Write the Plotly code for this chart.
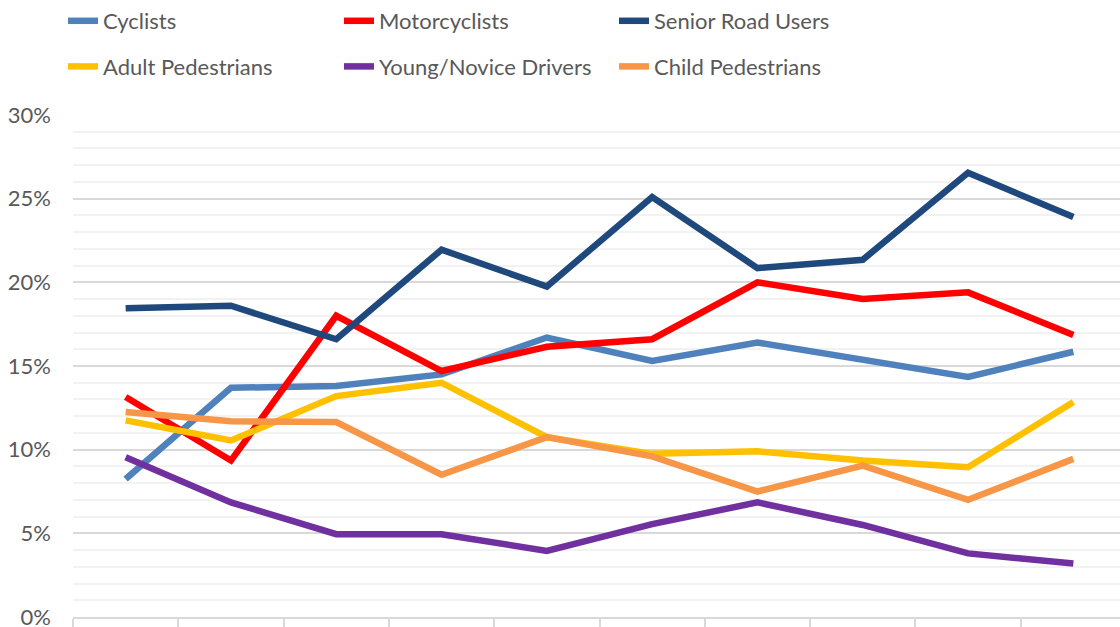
import plotly.graph_objects as go

periods = list(range(10))
cyclists = [8.25, 13.7, 13.8, 14.5, 16.7, 15.3, 16.4, 15.4, 14.35, 15.85]
motorcyclists = [13.15, 9.35, 18.0, 14.7, 16.15, 16.6, 20.0, 19.0, 19.4, 16.85]
senior = [18.45, 18.6, 16.6, 21.95, 19.75, 25.1, 20.85, 21.35, 26.55, 23.9]
adult_ped = [11.75, 10.55, 13.2, 14.0, 10.75, 9.75, 9.9, 9.35, 8.95, 12.85]
young_drivers = [9.55, 6.85, 4.95, 4.95, 3.95, 5.55, 6.85, 5.5, 3.8, 3.2]
child_ped = [12.25, 11.7, 11.65, 8.5, 10.75, 9.6, 7.5, 9.05, 7.0, 9.45]

series = [
    ("Cyclists", cyclists, "#4f81bd", "legend"),
    ("Motorcyclists", motorcyclists, "#ff0000", "legend2"),
    ("Senior Road Users", senior, "#1f497d", "legend3"),
    ("Adult Pedestrians", adult_ped, "#ffc000", "legend"),
    ("Young/Novice Drivers", young_drivers, "#7030a0", "legend2"),
    ("Child Pedestrians", child_ped, "#f79646", "legend3"),
]

fig = go.Figure()
for name, vals, color, lg in series:
    fig.add_trace(go.Scatter(
        x=periods, y=[v / 100 for v in vals], name=name, mode="lines",
        line=dict(color=color, width=6.5),
        legend=lg, legendgroup=name,
    ))

W, H = 1120, 627
font = dict(family="Lato, Open Sans, sans-serif", size=22, color="#595959")
legend_common = dict(
    orientation="v", xref="container", yref="container",
    xanchor="left", yanchor="top", y=1.0,
    font=font, bgcolor="rgba(0,0,0,0)", tracegroupgap=14, itemwidth=30,
)

fig.update_layout(
    width=W, height=H,
    margin=dict(l=73, r=0, t=115, b=10, autoexpand=False),
    plot_bgcolor="white", paper_bgcolor="white",
    font=font,
    showlegend=True,
    legend=dict(x=63 / W, **legend_common),
    legend2=dict(x=339 / W, **legend_common),
    legend3=dict(x=614 / W, **legend_common),
    xaxis=dict(
        range=[-0.5, 9.443], showgrid=False, zeroline=False,
        showline=True, linecolor="#d9d9d9", linewidth=1.5,
        tickvals=[i - 0.5 for i in range(11)], showticklabels=False,
        ticks="outside", ticklen=14, tickcolor="#d9d9d9", tickwidth=1.5,
    ),
    yaxis=dict(
        range=[0, 0.30], dtick=0.05, tickformat=".0%",
        showgrid=True, gridcolor="#d9d9d9", gridwidth=1.5,
        zeroline=False, ticks="", ticklabelstandoff=21,
        ticklabeloverflow="allow",
        minor=dict(dtick=0.01, showgrid=True, gridcolor="#f2f2f2", gridwidth=1.5),
        tickfont=font,
    ),
)

fig.write_html(
    "out.html",
    config={"displayModeBar": False},
    post_script="document.body.style.margin='0';",
)
